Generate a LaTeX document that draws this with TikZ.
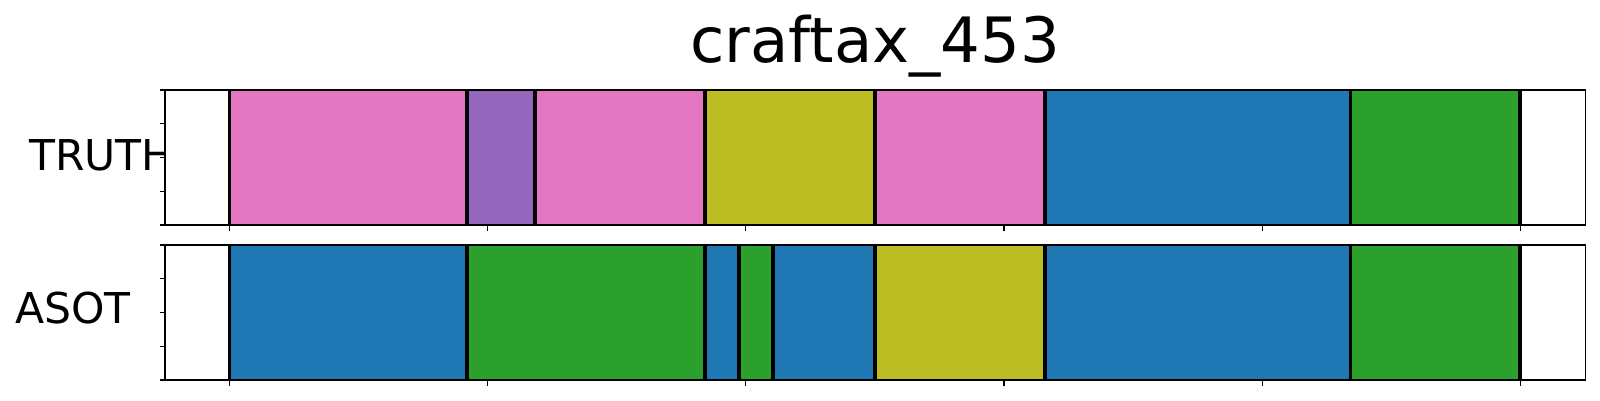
\documentclass[tikz,border=0pt]{standalone}
\usepackage{fontspec}
\setmainfont{DejaVu Sans}
\definecolor{tpink}{HTML}{E377C2}
\definecolor{tpurple}{HTML}{9467BD}
\definecolor{tolive}{HTML}{BCBD22}
\definecolor{tblue}{HTML}{1F77B4}
\definecolor{tgreen}{HTML}{2CA02C}
\tikzset{
  spine/.style={draw=black, line width=1.6pt},
  bound/.style={draw=black, line width=3.6pt},
  tickmark/.style={draw=black, line width=1.1pt},
  rowlabel/.style={inner sep=0pt, anchor=base west, font=\fontsize{42.5}{50}\selectfont},
  titlelabel/.style={inner sep=0pt, anchor=base, font=\fontsize{62.5}{70}\selectfont}
}
\begin{document}
\begin{tikzpicture}[x=1pt,y=-1pt]
\useasboundingbox[fill=white] (0,0) rectangle (1600,400);
% title
\node[titlelabel] (title) at (875,62.7) {craftax\_453};
% row labels
\node[rowlabel] (truth) at (29,170) {TRUTH};
\node[rowlabel] (asot) at (15,323.3) {ASOT};
% axes backgrounds (cover label overlap)
\fill[white] (165,90) rectangle (1585.3,225);
\fill[white] (165,245) rectangle (1585.3,380);
% TRUTH segments
\foreach \a/\b/\c in {229.5/467/tpink, 467/535/tpurple, 535/705/tpink, 705/875/tolive, 875/1045/tpink, 1045/1350.5/tblue, 1350.5/1520/tgreen}
  \fill[\c] (\a,90) rectangle (\b,225);
% ASOT segments
\foreach \a/\b/\c in {229.5/467/tblue, 467/705/tgreen, 705/739/tblue, 739/773/tgreen, 773/875/tblue, 875/1045/tolive, 1045/1350.5/tblue, 1350.5/1520/tgreen}
  \fill[\c] (\a,245) rectangle (\b,380);
% boundaries
\foreach \x in {229.5, 467, 535, 705, 875, 1045, 1350.5, 1520}
  \draw[bound] (\x,90) -- (\x,225);
\foreach \x in {229.5, 467, 705, 739, 773, 875, 1045, 1350.5, 1520}
  \draw[bound] (\x,245) -- (\x,380);
% spines
\draw[spine] (165,90) rectangle (1585.3,225);
\draw[spine] (165,245) rectangle (1585.3,380);
% ticks
\foreach \x in {229.5, 487.7, 745.8, 1004.0, 1262.2, 1520.4} {
  \draw[tickmark] (\x,225) -- (\x,230.5);
  \draw[tickmark] (\x,380) -- (\x,385.5);
}
\foreach \y in {90, 123.75, 157.5, 191.25, 225}
  \draw[tickmark] (165,\y) -- (159.5,\y);
\foreach \y in {245, 278.75, 312.5, 346.25, 380}
  \draw[tickmark] (165,\y) -- (159.5,\y);
\end{tikzpicture}
\end{document}
